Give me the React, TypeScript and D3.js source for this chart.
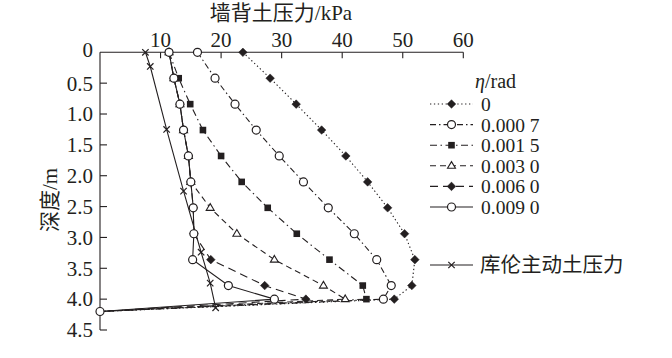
import React from "react";
import * as d3 from "d3";

const depths = [0, 0.42, 0.84, 1.26, 1.68, 2.1, 2.52, 2.94, 3.36, 3.78, 4.0, 4.2];
const s0 = [23.6, 28.1, 32.4, 36.6, 40.6, 44.2, 47.5, 50.3, 52.0, 51.5, 48.6, 0];
const s0007 = [16.1, 19.0, 22.3, 25.8, 29.6, 33.6, 37.7, 42.0, 45.7, 48.1, 46.8, 0];
const s0015 = [11.4, 13.0, 14.9, 17.0, 20.0, 23.4, 27.7, 32.5, 37.9, 43.4, 44.0, 0];
const s003 = [11.4, 12.2, 13.2, 13.8, 14.6, 15.0, 18.2, 22.6, 28.8, 36.9, 40.5, 0];
const s006 = [11.4, 12.2, 13.2, 13.8, 14.6, 15.0, 15.4, 15.5, 18.3, 27.2, 34.0, 0];
const s009 = [11.4, 12.2, 13.2, 13.8, 14.6, 15.0, 15.4, 15.5, 15.3, 21.2, 28.8, 0];

const coulombDepths = [0, 0.23, 1.25, 2.25, 3.24, 3.74, 4.14];
const coulombValues = [7.5, 8.3, 11.0, 13.8, 16.7, 18.2, 19.1];

const xTicks = [10, 20, 30, 40, 50, 60];
const yTicks = [0, 0.5, 1.0, 1.5, 2.0, 2.5, 3.0, 3.5, 4.0, 4.5];

const seriesLabels = ["0", "0.000 7", "0.001 5", "0.003 0", "0.006 0", "0.009 0"];
const seriesValues = [s0, s0007, s0015, s003, s006, s009];
const seriesMarkers = ["diamond", "circle", "square", "triangle", "diamond", "circle"];
const seriesDash = ["1.3,2.6", "6,3,1.5,3", "7,3.5,1.5,3.5", "6,4", "8,5", ""];

const xTitle = "墙背土压力/kPa";
const yTitle = "深度/m";
const legendTitleItalic = "η";
const legendTitleRest = "/rad";
const coulombLabel = "库伦主动土压力";

const INK = "#231f20";
const FONT = "'Liberation Serif', 'Times New Roman', 'Noto Sans CJK SC', serif";

function Marker({ type, x, y }: { type: string; x: number; y: number }) {
  if (type === "diamond") {
    const r = 4.3;
    return (
      <polygon
        points={`${x},${y - r} ${x + r},${y} ${x},${y + r} ${x - r},${y}`}
        fill={INK}
        stroke={INK}
        strokeWidth={0.5}
      />
    );
  }
  if (type === "square") {
    const h = 3.3;
    return <rect x={x - h} y={y - h} width={2 * h} height={2 * h} fill={INK} />;
  }
  if (type === "circle") {
    return <circle cx={x} cy={y} r={4} fill="#fff" stroke={INK} strokeWidth={1.2} />;
  }
  if (type === "triangle") {
    const s = 4.2;
    return (
      <polygon
        points={`${x},${y - s} ${x + s * 0.95},${y + s * 0.6} ${x - s * 0.95},${y + s * 0.6}`}
        fill="#fff"
        stroke={INK}
        strokeWidth={1.1}
      />
    );
  }
  const c = 3.2;
  return (
    <g stroke={INK} strokeWidth={1.2}>
      <line x1={x - c} y1={y - c} x2={x + c} y2={y + c} />
      <line x1={x - c} y1={y + c} x2={x + c} y2={y - c} />
    </g>
  );
}

export default function App() {
  const x = d3.scaleLinear().domain([0, 60]).range([100, 463.3]);
  const y = d3.scaleLinear().domain([0, 4.5]).range([52.3, 330]);

  const line = d3
    .line<[number, number]>()
    .x((d) => x(d[0]))
    .y((d) => y(d[1]));

  const series = seriesValues.map((vals, i) => ({
    label: seriesLabels[i],
    marker: seriesMarkers[i],
    dash: seriesDash[i],
    pts: vals.map((v, j) => [v, depths[j]] as [number, number]),
  }));
  const coulomb = coulombValues.map((v, j) => [v, coulombDepths[j]] as [number, number]);

  const legendX0 = 430;
  const legendX1 = 473;
  const legendY0 = 104;
  const legendStep = 20.6;

  return (
    <svg
      width={672}
      height={358}
      style={{ position: "absolute", left: 0, top: 0, background: "#fff" }}
      fontFamily={FONT}
    >
      <line x1={x(0)} y1={y(0)} x2={x(60)} y2={y(0)} stroke={INK} strokeWidth={1.1} />
      <line x1={x(0)} y1={y(0)} x2={x(0)} y2={y(4.5)} stroke={INK} strokeWidth={1.1} />
      {xTicks.map((t) => (
        <g key={"xt" + t}>
          <line x1={x(t)} y1={y(0)} x2={x(t)} y2={y(0) + 6} stroke={INK} strokeWidth={1.1} />
          <text x={x(t)} y={46.5} fontSize={21} textAnchor="middle" fill={INK}>
            {t}
          </text>
        </g>
      ))}
      {yTicks.map((t) => (
        <g key={"yt" + t}>
          {t > 0 && (
            <line x1={x(0)} y1={y(t)} x2={x(0) + 7} y2={y(t)} stroke={INK} strokeWidth={1.1} />
          )}
          <text
            x={93}
            y={y(t) - (t === 0 ? 3 : 0)}
            dy="0.35em"
            fontSize={21}
            textAnchor="end"
            fill={INK}
          >
            {t === 0 ? "0" : t.toFixed(1)}
          </text>
        </g>
      ))}
      <text x={281} y={20} fontSize={21} textAnchor="middle" fill={INK}>
        {xTitle}
      </text>
      <text
        transform={`translate(50,200) rotate(-90)`}
        fontSize={21}
        textAnchor="middle"
        dy="0.35em"
        fill={INK}
      >
        {yTitle}
      </text>

      {series.map((s) => (
        <path
          key={"l" + s.label}
          d={line(s.pts) || ""}
          fill="none"
          stroke={INK}
          strokeWidth={1.1}
          strokeDasharray={s.dash || undefined}
        />
      ))}
      <path d={line(coulomb) || ""} fill="none" stroke={INK} strokeWidth={1.1} />

      {series.map((s, i) => (
        <g key={"m" + s.label}>
          {s.pts
            .filter((p) => !(p[0] === 0 && i !== series.length - 1))
            .map((p, j) => (
              <Marker key={j} type={s.marker} x={x(p[0])} y={y(p[1])} />
            ))}
        </g>
      ))}
      {coulomb.map((p, j) => (
        <Marker key={"c" + j} type="cross" x={x(p[0])} y={y(p[1])} />
      ))}

      <text x={475} y={88} fontSize={20} fill={INK}>
        <tspan fontStyle="italic">{legendTitleItalic}</tspan>
        {legendTitleRest}
      </text>
      {series.map((s, i) => {
        const ly = legendY0 + i * legendStep;
        return (
          <g key={"lg" + s.label}>
            <line
              x1={legendX0}
              y1={ly}
              x2={legendX1}
              y2={ly}
              stroke={INK}
              strokeWidth={1.1}
              strokeDasharray={s.dash || undefined}
            />
            <Marker type={s.marker} x={(legendX0 + legendX1) / 2} y={ly} />
            <text x={481} y={ly} dy="0.36em" fontSize={19.5} fill={INK}>
              {s.label}
            </text>
          </g>
        );
      })}
      <g>
        <line x1={legendX0} y1={265} x2={legendX1} y2={265} stroke={INK} strokeWidth={1.1} />
        <Marker type="cross" x={(legendX0 + legendX1) / 2} y={265} />
        <text x={480} y={265} dy="0.35em" fontSize={20.5} fill={INK}>
          {coulombLabel}
        </text>
      </g>
    </svg>
  );
}
